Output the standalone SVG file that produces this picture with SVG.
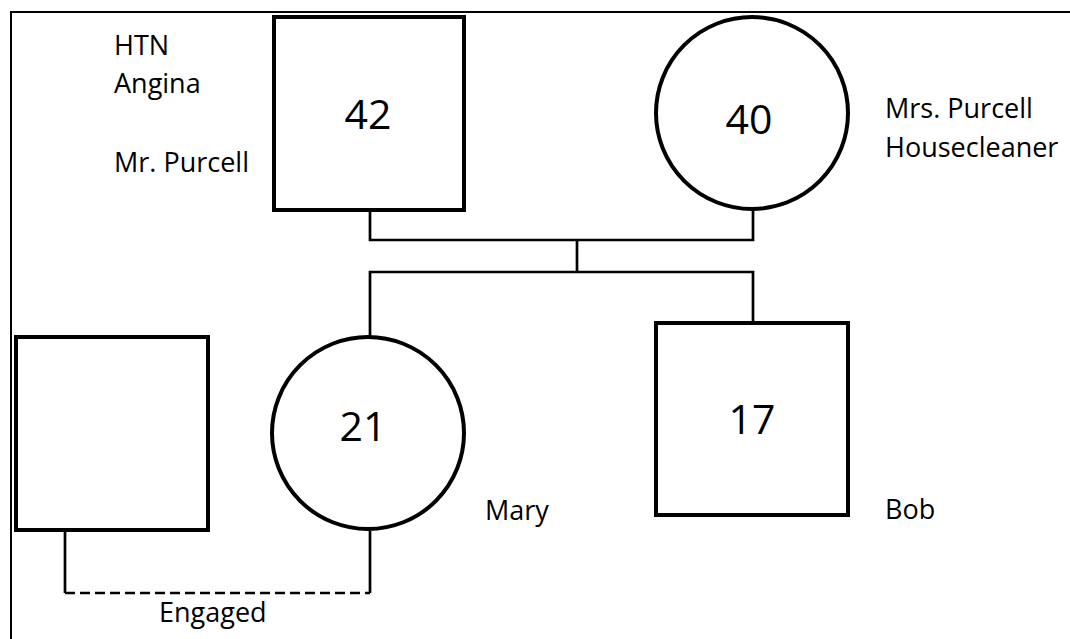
<svg xmlns="http://www.w3.org/2000/svg" width="1070" height="639" viewBox="0 0 1070 639">
<style>
.shape{fill:#fff;stroke:#000;stroke-width:4}
.conn{fill:none;stroke:#000;stroke-width:2.7}
.dash{stroke-dasharray:10 5}
.lbl{font-family:"Open Sans","Liberation Sans",sans-serif;font-size:27px;fill:#000}
.num{font-family:"Open Sans","Liberation Sans",sans-serif;font-size:41px;fill:#000;text-anchor:middle}
</style>
<rect x="0" y="0" width="1070" height="639" fill="#fff"/>
<rect id="frame" x="11" y="12" width="1080" height="660" fill="none" stroke="#000" stroke-width="2"/>
<g id="connectors">
<polyline class="conn" points="370,211 370,240 753,240 753,210"/>
<line class="conn" x1="577" y1="240" x2="577" y2="272"/>
<polyline class="conn" points="370,336 370,272 753,272 753,321"/>
<line class="conn" x1="65" y1="531" x2="65" y2="593"/>
<line class="conn dash" x1="65" y1="593" x2="370" y2="593"/>
<line class="conn" x1="370" y1="531" x2="370" y2="593"/>
</g>
<g id="mr-purcell">
<rect class="shape" x="274" y="17" width="190" height="193"/>
<text class="num" x="368" y="129">42</text>
<text class="lbl" x="114" y="55">HTN</text>
<text class="lbl" x="114" y="93">Angina</text>
<text class="lbl" x="114" y="172">Mr. Purcell</text>
</g>
<g id="mrs-purcell">
<circle class="shape" cx="752" cy="113" r="96"/>
<text class="num" x="749" y="134">40</text>
<text class="lbl" x="885" y="118">Mrs. Purcell</text>
<text class="lbl" x="885" y="157">Housecleaner</text>
</g>
<g id="fiance">
<rect class="shape" x="16" y="337" width="192" height="193"/>
</g>
<g id="mary">
<circle class="shape" cx="368" cy="433" r="96"/>
<text class="num" x="363" y="441">21</text>
<text class="lbl" x="485" y="520">Mary</text>
</g>
<g id="bob">
<rect class="shape" x="656" y="323" width="192" height="192"/>
<text class="num" x="752" y="434">17</text>
<text class="lbl" x="885" y="519">Bob</text>
</g>
<g id="engaged-label">
<text class="lbl" x="159" y="622">Engaged</text>
</g>
</svg>
